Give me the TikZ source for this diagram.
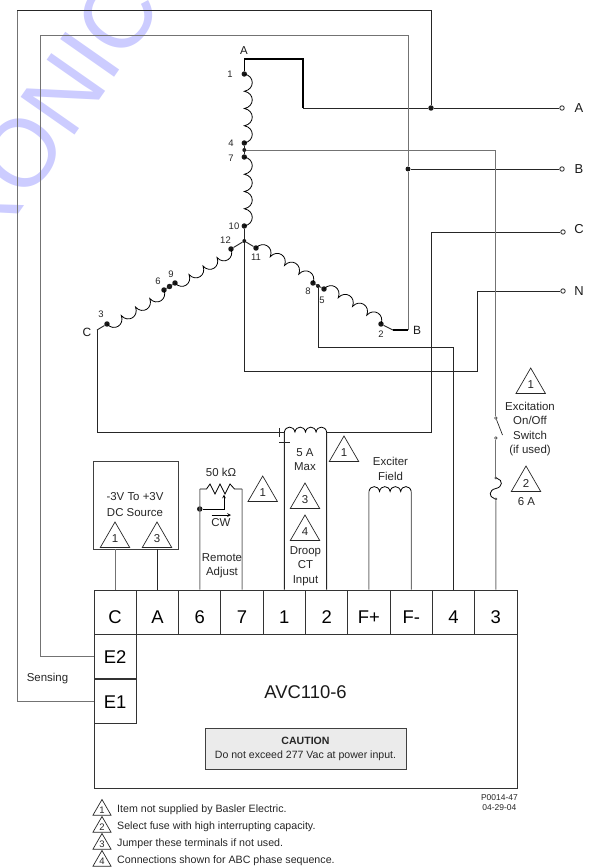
\documentclass[tikz,border=0pt]{standalone}
\usepackage{fontspec}
\setmainfont{Liberation Sans}
\usetikzlibrary{calc,shapes.geometric}

\tikzstyle{wire} = [line width=0.9pt,color=black!85]
\tikzstyle{graywire} = [line width=1pt,color=black!55]
\tikzstyle{heavywire} = [line width=1.4pt,color=black]
\tikzstyle{winding} = [line width=0.8pt,color=black]
\tikzstyle{bump} = [bend left=80,looseness=1.6]
\tikzstyle{arrow} = [line width=0.7pt,->,>=stealth]
\tikzstyle{dot} = [circle,fill=black!90,inner sep=0pt,minimum size=5.5pt]
\tikzstyle{smalldot} = [circle,fill=black!90,inner sep=0pt,minimum size=4pt]
\tikzstyle{opendot} = [circle,draw=black!85,fill=white,line width=0.8pt,inner sep=0pt,minimum size=4.5pt]
\tikzstyle{tinydot} = [circle,draw=black!70,fill=white,line width=0.6pt,inner sep=0pt,minimum size=2.6pt]
\tikzstyle{terminal} = [rectangle,draw=black!80,line width=0.9pt,minimum width=42.3bp,minimum height=44.4bp,inner sep=0pt,text height=23pt,text depth=0pt,font=\fontsize{18.5}{20}\selectfont]
\tikzstyle{sideterminal} = [terminal,text height=14pt]
\tikzstyle{lbl} = [align=center,inner sep=0pt,text=black!85,font=\fontsize{11.5}{14.3}\selectfont]
\tikzstyle{num} = [inner sep=0pt,text=black!85,font=\fontsize{9.5}{11}\selectfont]
\tikzstyle{phase} = [inner sep=0pt,text=black!90,font=\fontsize{13}{15}\selectfont]
\tikzstyle{note} = [anchor=west,inner sep=0pt,text=black!85,font=\fontsize{10.7}{13}\selectfont]
\tikzstyle{notemark} = [regular polygon,regular polygon sides=3,draw=black!85,line width=0.7pt,inner sep=0pt,minimum size=34bp,text=black!85,font=\fontsize{11.5}{13}\selectfont]
\tikzstyle{smallmark} = [notemark,minimum size=21bp,font=\fontsize{9.5}{11}\selectfont]

\newcommand{\coil}[2]{\draw [winding] (#1.center) to[bump] ($(#1.center)!0.25!(#2.center)$) to[bump] ($(#1.center)!0.5!(#2.center)$) to[bump] ($(#1.center)!0.75!(#2.center)$) to[bump] (#2.center);}

\begin{document}
\begin{tikzpicture}[x=1bp,y=-1bp,node distance=42.3bp]
	\useasboundingbox (0,0) rectangle (595,868);
	% backdrop lettering
	\begin{scope}
		\clip (0,0) rectangle (595,868);
		\node (mark) [rotate=55,inner sep=0pt,text=blue!20,text height=69pt,text depth=0pt,font=\fontsize{96}{100}\selectfont] at (48,113) {RONIC};
	\end{scope}

	% regulator
	\node (unit) [rectangle,draw=black!80,line width=0.9pt,minimum width=423bp,minimum height=198bp] at (305.5,689) {};
	\node (termC) [terminal] at (115.15,612.2) {C};
	\node (termA) [terminal, right of=termC] {A};
	\node (term6) [terminal, right of=termA] {6};
	\node (term7) [terminal, right of=term6] {7};
	\node (term1) [terminal, right of=term7] {1};
	\node (term2) [terminal, right of=term1] {2};
	\node (termFp) [terminal, right of=term2] {F+};
	\node (termFm) [terminal, right of=termFp] {F-};
	\node (term4) [terminal, right of=termFm] {4};
	\node (term3) [terminal, right of=term4] {3};
	\node (termE2) [sideterminal, below of=termC, yshift=-2.2bp] {E2};
	\node (termE1) [sideterminal, below of=termE2, yshift=-2.2bp] {E1};
	\node (model) [inner sep=0pt,text=black!90,font=\fontsize{18.5}{20}\selectfont] at (305.5,692) {AVC110-6};
	\node (caution) [rectangle,draw=black!75,fill=black!8,line width=0.9pt,minimum width=201bp,minimum height=41.5bp,align=center,inner sep=0pt,text=black!85,font=\fontsize{10.6}{14.5}\selectfont] at (305.5,749) {\textbf{CAUTION}\\Do not exceed 277 Vac at power input.};

	% machine windings
	\node (t1) [dot] at (244.3,74) {};
	\node (t4) [dot] at (244.3,143) {};
	\node (tB) [smalldot] at (244.3,150) {};
	\node (t7) [dot] at (244.3,157) {};
	\node (t10) [dot] at (244.3,226) {};
	\node (star) [smalldot] at (244.3,241) {};
	\node (t11) [dot] at (256,248) {};
	\node (t8) [dot] at (313,283) {};
	\node (tN) [smalldot] at (318,286) {};
	\node (t5) [dot] at (324,289) {};
	\node (t2) [dot] at (381,324) {};
	\node (t12) [dot] at (231,249) {};
	\node (t9) [dot] at (175,283) {};
	\node (tM) [dot] at (169.5,286.5) {};
	\node (t6) [dot] at (164,290) {};
	\node (t3) [dot] at (107,324) {};
	\coil{t1}{t4}
	\coil{t7}{t10}
	\coil{t11}{t8}
	\coil{t5}{t2}
	\coil{t12}{t9}
	\coil{t6}{t3}
	\draw [wire] (t4) -- (t7);
	\draw [wire] (t10) -- (star);
	\draw [wire] (star) -- (t11);
	\draw [wire] (star) -- (t12);
	\draw [wire] (t8) -- (t5);
	\draw [wire] (t9) -- (t6);

	\node (lab1) [num] at (230,74) {1};
	\node (lab4) [num] at (231,143) {4};
	\node (lab7) [num] at (231,158) {7};
	\node (lab10) [num] at (234,226) {10};
	\node (lab12) [num] at (225.5,240) {12};
	\node (lab11) [num] at (256,257) {11};
	\node (lab8) [num] at (308,291) {8};
	\node (lab5) [num] at (322,300) {5};
	\node (lab2) [num] at (381,334) {2};
	\node (lab6) [num] at (158,281) {6};
	\node (lab9) [num] at (171,274) {9};
	\node (lab3) [num] at (101,314) {3};
	\node (labA) [phase,font=\fontsize{11.5}{13}\selectfont] at (244,51) {A};
	\node (labB) [phase,font=\fontsize{12}{13}\selectfont] at (417,330) {B};
	\node (labC) [phase,font=\fontsize{12}{13}\selectfont] at (87,332) {C};

	% lines
	\node (lineA) [opendot] at (562,108) {};
	\node (lineB) [opendot] at (562,169) {};
	\node (lineC) [opendot] at (563,232) {};
	\node (lineN) [opendot] at (563,291) {};
	\node (nameA) [phase] at (579,108) {A};
	\node (nameB) [phase] at (579,169) {B};
	\node (nameC) [phase] at (579,229) {C};
	\node (nameN) [phase] at (579,291) {N};
	\node (joinA) [dot] at (431,108) {};
	\node (joinB) [dot,minimum size=5pt] at (408,169) {};

	\coordinate (endA) at (244.3,59);
	\coordinate (bendA) at (303,108);
	\coordinate (endB) at (393,330);
	\coordinate (bendB) at (408,330);
	\coordinate (endC) at (97,330);
	\coordinate (ctL) at (284.35,432);
	\coordinate (ctR) at (326.65,432);
	\coordinate (cornerC) at (431,232);
	\coordinate (lowC) at (431,432);
	\coordinate (leftC) at (97,432);
	\coordinate (senseA) at (40,35);
	\coordinate (senseB) at (17,10.5);
	\coordinate (cornerN) at (244.3,371);
	\coordinate (riseN) at (477,371);
	\coordinate (drop4) at (318,347);
	\draw [heavywire] (t1) -- (endA) -| (bendA);
	\draw [wire] (bendA) -- (joinA);
	\draw [wire] (joinA) -- (lineA);
	\draw [wire] (joinB) -- (lineB);
	\draw [wire] (cornerC) -- (lineC);
	\draw [wire] (cornerC) -- (lowC) -- (ctR);
	\draw [wire] (ctL) -- (leftC) -- (endC);
	\draw [wire] (t3) -- (endC);
	\draw [wire] (t2) -- (endB);
	\draw [heavywire,line width=1.2pt] (endB) -- (bendB);
	\draw [graywire] (bendB) -- (joinB);
	\draw [graywire] (joinB) |- (senseA) |- (termE2.west);
	\draw [wire] (joinA) |- (senseB);
	\draw [graywire] (senseB) |- (termE1.west |- 0,701.5);
	\draw [wire] (tN) -- (drop4) -| (term4);
	\draw [wire] (star) -- (cornerN) -- (riseN) |- (lineN);

	% excitation supply
	\node (sw1) [tinydot] at (495.85,418) {};
	\node (sw2) [tinydot] at (495.85,438) {};
	\node (fu1) [tinydot,minimum size=2pt] at (495.85,478) {};
	\coordinate (fuM) at (495.85,488.5);
	\node (fu2) [tinydot,minimum size=2pt] at (495.85,499) {};
	\coordinate (blade) at (502.5,435);
	\draw [graywire] (tB) -| (sw1);
	\draw [wire,line width=0.7pt] (sw1) -- (blade);
	\draw [graywire] (sw2) -- (fu1);
	\draw [winding] (fu1) .. controls (503,480) and (503,487) .. (fuM) .. controls (488.5,490) and (488.5,497) .. (fu2);
	\draw [graywire] (fu2) -- (term3);
	\node (excit) [lbl] at (530,429) {Excitation\\On/Off\\Switch\\(if used)};
	\node (sixamp) [lbl] at (526.5,502) {6 A};
	\node (mark1d) [notemark] at (530.7,385) {1};
	\node (mark2) [notemark] at (526,483) {2};

	% exciter field
	\coordinate (exL) at (368.95,491.5);
	\coordinate (exR) at (411.25,491.5);
	\coil{exL}{exR}
	\draw [graywire] (termFp) -- (exL);
	\draw [graywire] (termFm) -- (exR);
	\node (exciter) [lbl] at (390.5,469) {Exciter\\Field};

	% droop ct
	\coil{ctL}{ctR}
	\draw [wire] (term1) -- (ctL);
	\draw [wire] (term2) -- (ctR);
	\coordinate (tickA) at (279,428);
	\coordinate (tickB) at (279,437);
	\coordinate (tickC) at (279,442);
	\coordinate (tickD) at (289.5,442);
	\draw [wire,line width=0.7pt] (tickA) -- (tickB);
	\draw [wire,line width=0.7pt] (tickC) -- (tickD);
	\node (maxamp) [lbl] at (305,459.5) {5 A\\Max};
	\node (droop) [lbl] at (305.5,566) {Droop\\CT\\Input};
	\node (mark3b) [notemark] at (305,500) {3};
	\node (mark4) [notemark] at (305,532) {4};
	\node (mark1c) [notemark] at (344,453) {1};

	% remote adjust
	\coordinate (potL) at (199.75,489);
	\coordinate (potR) at (242.05,489);
	\coordinate (potTip) at (224,494.5);
	\node (wiper) [dot] at (199.75,509) {};
	\draw [graywire] (term6) -- (potL);
	\draw [graywire] (term7) -- (potR);
	\draw [winding] (potL) -- (206.5,489) -- (210,484) -- (215,494) -- (220,484) -- (225,494) -- (230,484) -- (234.5,489) -- (potR);
	\draw [arrow] (wiper) -| (potTip);
	\coordinate (cwA) at (211.5,515);
	\coordinate (cwB) at (231,515);
	\draw [arrow] (cwA) -- (cwB);
	\node (pot) [lbl] at (221,472) {50 kΩ};
	\node (cw) [lbl] at (221,523) {CW};
	\node (remote) [lbl] at (222,566) {Remote\\Adjust};
	\node (mark1b) [notemark] at (262.7,493) {1};

	% dc source
	\node (source) [rectangle,draw=black!75,line width=0.9pt,minimum width=85bp,minimum height=88bp] at (136.2,505) {};
	\draw [graywire] (termC) -- (termC |- source.south);
	\draw [wire] (termA) -- (termA |- source.south);
	\node (srctxt) [lbl,font=\fontsize{11.5}{16}\selectfont] at (135,505) {-3V To +3V\\DC Source};
	\node (mark1a) [notemark] at (115,539) {1};
	\node (mark3a) [notemark] at (157,539) {3};

	\node (sensing) [lbl] at (47.5,678.5) {Sensing};

	% notes
	\node (small1) [smallmark] at (102,810) {1};
	\node (small2) [smallmark] at (102,827) {2};
	\node (small3) [smallmark] at (102,844) {3};
	\node (small4) [smallmark] at (102,861) {4};
	\node (note1) [note] at (117,809.5) {Item not supplied by Basler Electric.};
	\node (note2) [note] at (117,827) {Select fuse with high interrupting capacity.};
	\node (note3) [note] at (117,844) {Jumper these terminals if not used.};
	\node (note4) [note] at (117,861) {Connections shown for ABC phase sequence.};
	\node (drawing) [align=center,anchor=north east,inner sep=0pt,text=black!85,font=\fontsize{8.5}{10}\selectfont] at (518,794.5) {P0014-47\\04-29-04};
\end{tikzpicture}
\end{document}
